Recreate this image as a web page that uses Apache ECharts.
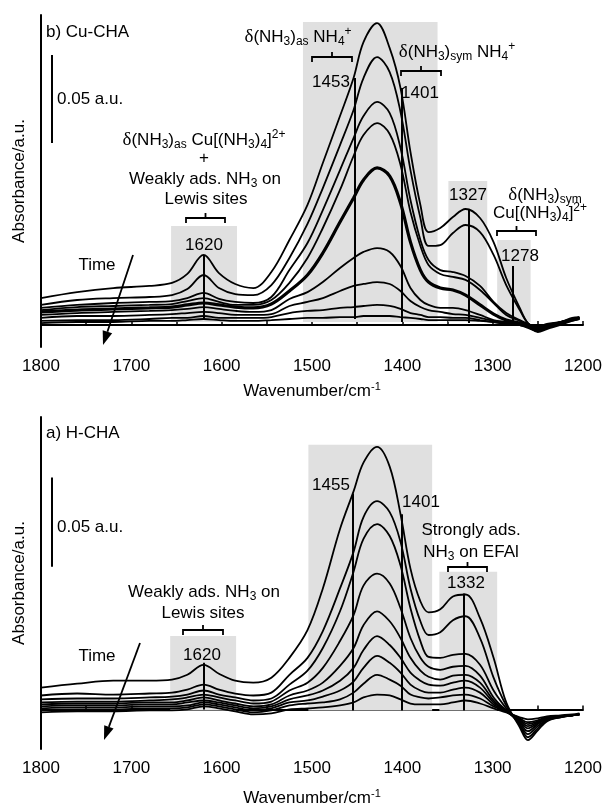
<!DOCTYPE html>
<html>
<head>
<meta charset="utf-8">
<script src="https://cdn.jsdelivr.net/npm/echarts/dist/echarts.min.js"></script>
<style>
  html, body { margin: 0; background: #fff; }
  #chart { width: 608px; height: 809px; }
</style>
</head>
<body>
<div id="chart"></div>
<script>
// wavenumber grid shared by both panels (cm-1)
const wavenumbers = [1800, 1760, 1720, 1680, 1655, 1638, 1620, 1603, 1585, 1565, 1545, 1525,
  1505, 1488, 1469, 1454, 1443, 1428, 1414, 1402, 1391, 1380, 1371, 1358, 1344, 1330,
  1314, 1299, 1285, 1270, 1261, 1250, 1240, 1225, 1212, 1204];

// b) Cu-CHA spectra, absorbance in mAU (50 = 0.05 a.u.), newest -> oldest
const cu1 = [15.3, 18.7, 21.0, 22.2, 23.9, 29.0, 39.8, 29.5, 23.3, 21.0, 30.1, 48.3, 68.2, 92.0, 118.7, 140.3, 160.7, 171.5, 157.3, 134.6, 98.3, 68.2, 52.8, 55.1, 61.3, 65.9, 60.8, 47.1, 26.7, 9.7, 1.1, -1.7, 0, 1.7, 4.0, 4.5];
const cu2 = [11.4, 14.2, 15.3, 15.9, 17.0, 20.4, 28.4, 21.0, 17.6, 17.0, 22.7, 38.1, 57.4, 77.8, 102.2, 122.1, 140.3, 152.2, 143.7, 121.0, 88.0, 60.8, 44.9, 45.4, 52.3, 56.8, 52.8, 39.8, 22.7, 8.5, 1.1, -1.1, 0.6, 1.7, 3.4, 4.5];
const cu3 = [9.7, 11.4, 12.5, 13.1, 13.6, 15.3, 18.2, 14.8, 13.1, 12.5, 15.9, 31.2, 46.6, 65.3, 88.0, 106.2, 118.7, 126.7, 120.4, 100.5, 71.0, 48.3, 36.9, 31.2, 30.1, 27.8, 22.2, 13.1, 6.8, 2.8, 0.6, -1.7, 0, 1.7, 3.4, 4.0];
const cu4 = [8.5, 10.2, 10.8, 11.4, 11.9, 13.6, 15.3, 13.1, 11.4, 11.4, 14.2, 23.9, 38.1, 55.1, 76.7, 96.0, 107.9, 114.7, 108.5, 90.9, 64.2, 44.9, 34.1, 29.0, 27.3, 25.6, 19.9, 12.5, 5.7, 2.3, 0, -2.3, -0.6, 1.1, 2.8, 4.0];
const cu5 = [7.4, 8.5, 9.1, 9.7, 10.2, 11.4, 12.5, 11.4, 10.2, 9.7, 11.9, 19.3, 28.4, 40.9, 58.5, 72.1, 82.4, 89.2, 84.6, 69.3, 47.1, 31.2, 24.4, 21.0, 19.9, 17.0, 11.4, 6.2, 2.8, 1.1, -0.6, -2.8, -1.1, 1.1, 2.8, 4.0];
const cu6 = [5.7, 6.8, 7.4, 8.0, 8.5, 9.1, 10.2, 9.1, 8.0, 7.4, 8.5, 14.8, 18.7, 24.4, 32.4, 38.1, 41.5, 43.7, 41.5, 33.5, 21.0, 14.2, 11.4, 9.7, 9.7, 8.5, 5.7, 2.8, 1.7, 0.6, -1.1, -2.3, -0.6, 1.7, 3.4, 4.0];
const cu7 = [4.0, 5.1, 5.1, 5.7, 6.2, 6.8, 7.4, 6.8, 5.7, 5.7, 6.2, 10.8, 13.1, 15.3, 19.3, 22.2, 23.3, 24.4, 23.3, 19.3, 13.6, 10.2, 8.5, 7.4, 6.2, 5.7, 4.0, 2.3, 1.1, 0, -1.1, -2.8, -1.1, 1.1, 2.8, 4.0];
const cu8 = [2.3, 2.8, 2.8, 3.4, 4.0, 4.0, 5.1, 4.0, 4.0, 4.0, 4.5, 6.8, 8.0, 8.5, 9.7, 10.2, 10.8, 11.4, 10.8, 9.1, 6.8, 5.7, 4.5, 4.5, 4.0, 4.0, 2.8, 1.7, 0.6, 0, -1.7, -3.4, -1.7, 0.6, 2.8, 3.4];
const cu9 = [1.1, 1.7, 1.7, 2.3, 2.3, 2.8, 3.4, 2.8, 2.3, 2.3, 2.8, 3.4, 4.0, 4.0, 4.5, 4.5, 5.1, 5.1, 5.1, 4.5, 4.0, 3.4, 2.8, 2.8, 2.8, 2.8, 2.3, 1.7, 0.6, 0, -1.1, -4.0, -2.3, 0, 2.3, 3.4];

// a) H-CHA spectra, absorbance in mAU
const h1 = [12.2, 14.4, 16.1, 16.1, 16.7, 19.4, 25.0, 20.0, 16.1, 15.0, 17.8, 28.9, 44.4, 67.8, 101.1, 122.2, 138.3, 147.2, 136.1, 109.4, 78.9, 60.6, 54.4, 56.1, 63.3, 64.4, 51.1, 28.9, 3.9, -10.0, -17.2, -11.7, -6.7, -4.4, -3.3, -2.8];
const h2 = [7.8, 8.9, 8.3, 8.9, 9.4, 11.1, 13.9, 11.1, 8.9, 7.8, 9.4, 19.4, 28.9, 43.9, 67.8, 88.3, 107.8, 116.7, 110.6, 93.9, 67.8, 49.4, 41.7, 43.3, 50.0, 52.2, 40.0, 17.8, 2.2, -8.9, -15.6, -10.6, -6.1, -4.4, -3.3, -2.8];
const h3 = [5.6, 6.1, 6.1, 6.7, 7.2, 8.3, 10.6, 8.3, 6.7, 5.0, 6.1, 13.9, 21.7, 34.4, 55.0, 77.2, 95.6, 103.9, 97.2, 80.6, 56.7, 38.3, 29.4, 28.9, 30.6, 31.1, 25.0, 10.6, 0.6, -8.3, -13.9, -9.4, -5.6, -4.4, -3.3, -2.8];
const h4 = [3.9, 4.4, 4.4, 5.0, 5.6, 6.7, 8.3, 6.7, 5.0, 3.3, 4.4, 10.6, 15.0, 23.3, 38.3, 52.8, 69.4, 76.1, 70.6, 56.7, 40.0, 28.9, 23.9, 22.2, 23.9, 24.4, 18.9, 6.7, -0.6, -7.2, -12.2, -8.3, -5.0, -3.9, -3.3, -2.8];
const h5 = [2.8, 3.3, 3.3, 3.9, 3.9, 5.0, 6.7, 5.0, 3.3, 1.7, 2.8, 7.8, 10.6, 15.0, 24.4, 34.4, 47.2, 55.0, 49.4, 40.0, 28.9, 21.7, 18.3, 16.7, 18.9, 19.4, 15.0, 5.0, -1.1, -6.7, -10.6, -7.8, -5.0, -3.9, -3.3, -2.8];
const h6 = [1.7, 2.2, 2.2, 2.8, 2.8, 3.9, 5.0, 3.9, 2.2, 0.6, 1.7, 5.6, 7.8, 10.6, 16.1, 23.3, 33.3, 41.1, 36.1, 28.9, 20.6, 16.1, 13.9, 13.3, 15.0, 16.1, 12.2, 3.9, -1.1, -6.1, -9.4, -7.2, -4.4, -3.9, -3.3, -2.8];
const h7 = [0.6, 1.1, 1.1, 1.7, 1.7, 2.2, 3.9, 2.8, 1.1, -0.6, 0.6, 3.9, 5.0, 7.2, 10.6, 15.6, 23.3, 30.0, 26.1, 20.6, 13.9, 10.6, 9.4, 9.4, 11.1, 12.2, 9.4, 2.8, -1.1, -5.6, -8.3, -6.7, -4.4, -3.9, -3.3, -2.8];
const h8 = [-0.6, 0, 0, 0.6, 0.6, 1.1, 2.8, 1.7, 0, -1.7, -0.6, 2.2, 3.3, 3.9, 5.6, 9.4, 14.4, 19.4, 16.7, 13.3, 8.3, 6.7, 6.1, 6.7, 7.8, 8.3, 6.1, 1.7, -1.1, -5.0, -7.2, -6.1, -4.4, -3.9, -3.3, -2.8];
const h9 = [-1.7, -1.1, -1.1, -0.6, -0.6, 0, 1.7, 0.6, -1.1, -2.8, -2.2, 0, 0.6, 1.1, 2.2, 3.9, 6.7, 8.3, 7.8, 5.6, 3.3, 2.8, 2.8, 2.8, 3.9, 5.0, 3.3, 0.6, -1.7, -4.4, -5.6, -5.0, -3.9, -3.3, -2.8, -2.2];

// shaded bands: [from cm-1, to cm-1, top mAU, bottom mAU]
const cuBands = [[1656, 1583, 56.2, 1.7], [1510, 1361, 172.1, 1.7], [1349, 1306, 81.8, 1.7], [1295, 1258, 48.3, 1.7]];
const hBands = [[1657, 1584, 41.1, -0.6], [1504, 1367, 148.3, -0.6], [1359, 1295, 77.2, -0.6]];
// peak markers: [cm-1, top mAU, bottom mAU]
const cuPeaks = [[1620, 39.8, 2.8], [1453, 140.3, 3.4], [1401, 134.6, 1.7], [1327, 65.9, 1.1], [1278, 33.5, 1.7]];
const hPeaks = [[1620, 26.1, 0], [1455, 121.0, -0.6], [1401, 109.4, -0.6], [1332, 65.0, -0.6]];
// 0.05 a.u. scale bars: [cm-1, bottom, top]
const cuScaleBar = [1788, 103.4, 153.4];
const hScaleBar = [1788, 80.0, 130.0];

const FONT = 'Liberation Sans, Arial, sans-serif';
const rich = {
  sub: { fontSize: 12, lineHeight: 14, verticalAlign: 'bottom', fontFamily: FONT, fill: '#000' },
  sup: { fontSize: 12, lineHeight: 14, verticalAlign: 'top', fontFamily: FONT, fill: '#000' },
  d: { fontSize: 19, lineHeight: 22, fontFamily: 'Liberation Serif, serif', fill: '#000' }
};

const chart = echarts.init(document.getElementById('chart'));

function xAxisOf(i, gap) {
  return {
    gridIndex: i, type: 'value', min: 1200, max: 1800, interval: 100, inverse: true,
    axisLine: { lineStyle: { color: '#000', width: 2 } },
    axisTick: { show: true, inside: true, length: 4, lineStyle: { color: '#000', width: 1.5 } },
    minorTick: { show: true, splitNumber: 2, length: 4, lineStyle: { color: '#000', width: 1.5 } },
    splitLine: { show: false },
    axisLabel: { color: '#000', fontSize: 17, fontFamily: FONT, margin: 11, formatter: v => String(v) },
    name: 'Wavenumber/cm{sup|-1}', nameLocation: 'middle', nameGap: gap,
    nameTextStyle: { color: '#000', fontSize: 17, fontFamily: FONT, lineHeight: 20,
      rich: { sup: { fontSize: 11, lineHeight: 12, verticalAlign: 'top', color: '#000' } } }
  };
}
function yAxisOf(i, min, max) {
  return {
    gridIndex: i, type: 'value', min: min, max: max,
    axisLine: { show: true, lineStyle: { color: '#000', width: 2 } },
    axisTick: { show: false }, axisLabel: { show: false }, splitLine: { show: false },
    name: 'Absorbance/a.u.', nameLocation: 'middle', nameGap: 13,
    nameTextStyle: { color: '#000', fontSize: 17, fontFamily: FONT }
  };
}

function spectra(list, idx, thick) {
  return list.map((vals, k) => ({
    type: 'line', xAxisIndex: idx, yAxisIndex: idx, silent: true, z: 3,
    showSymbol: false, smooth: 0.35, emphasis: { disabled: true },
    lineStyle: { color: '#000', width: k === thick ? 3.2 : 1.8 },
    data: wavenumbers.map((w, j) => [w, vals[j]])
  }));
}
function annotations(idx, bands, peaks, bar) {
  return {
    type: 'line', xAxisIndex: idx, yAxisIndex: idx, silent: true, data: [],
    markArea: {
      silent: true, itemStyle: { color: '#e0e0e0' },
      data: bands.map(b => [{ xAxis: b[0], yAxis: b[2] }, { xAxis: b[1], yAxis: b[3] }])
    },
    markLine: {
      silent: true, symbol: ['none', 'none'], label: { show: false },
      lineStyle: { color: '#000', width: 2, type: 'solid' },
      data: peaks.map(p => [{ coord: [p[0], p[1]] }, { coord: [p[0], p[2]] }])
        .concat([[{ coord: [bar[0], bar[2]] }, { coord: [bar[0], bar[1]] }]])
    }
  };
}

function label(text, x, y, align) {
  return {
    type: 'text', silent: true, z: 10,
    style: {
      text: text, x: x, y: y, fill: '#000', fontSize: 17, fontFamily: FONT,
      lineHeight: 22, align: align || 'center', verticalAlign: 'middle', rich: rich
    }
  };
}
function bracket(x1, x2, y) {
  const xc = (x1 + x2) / 2;
  return [
    { type: 'polyline', silent: true, z: 10, shape: { points: [[x1, y + 5], [x1, y], [x2, y], [x2, y + 5]] },
      style: { stroke: '#000', lineWidth: 1.8, fill: null } },
    { type: 'line', silent: true, z: 10, shape: { x1: xc, y1: y, x2: xc, y2: y - 5 },
      style: { stroke: '#000', lineWidth: 1.8 } }
  ];
}
function arrow(x1, y1, x2, y2) {
  const dx = x2 - x1, dy = y2 - y1, len = Math.hypot(dx, dy);
  const ux = dx / len, uy = dy / len, px = -uy, py = ux;
  const bx = x2 - 14 * ux, by = y2 - 14 * uy;
  return [
    { type: 'line', silent: true, z: 10, shape: { x1: x1, y1: y1, x2: bx, y2: by },
      style: { stroke: '#000', lineWidth: 1.8 } },
    { type: 'polygon', silent: true, z: 10,
      shape: { points: [[x2, y2], [bx + 5 * px, by + 5 * py], [bx - 5 * px, by - 5 * py]] },
      style: { fill: '#000' } }
  ];
}

const d = '{d|δ}';
const graphics = [
  label('b) Cu-CHA', 46, 32, 'left'),
  label('0.05 a.u.', 57, 99, 'left'),
  label(d + '(NH{sub|3}){sub|as} Cu[(NH{sub|3}){sub|4}]{sup|2+}', 204, 140),
  label('+', 204, 158),
  label('Weakly ads. NH{sub|3} on', 205, 179),
  label('Lewis sites', 206, 199),
  label('1620', 204, 245),
  label('Time', 97, 265),
  label(d + '(NH{sub|3}){sub|as} NH{sub|4}{sup|+}', 298, 37),
  label('1453', 331, 82),
  label(d + '(NH{sub|3}){sub|sym} NH{sub|4}{sup|+}', 457, 52),
  label('1401', 420, 93),
  label('1327', 468, 195),
  label(d + '(NH{sub|3}){sub|sym}', 545, 195),
  label('Cu[(NH{sub|3}){sub|4}]{sup|2+}', 540, 213),
  label('1278', 520, 256),

  label('a) H-CHA', 46, 433, 'left'),
  label('0.05 a.u.', 57, 527, 'left'),
  label('Weakly ads. NH{sub|3} on', 204, 592),
  label('Lewis sites', 203, 613),
  label('1620', 202, 655),
  label('Time', 97, 656),
  label('1455', 331, 485),
  label('1401', 421, 502),
  label('Strongly ads.', 471, 530),
  label('NH{sub|3} on EFAl', 471, 552),
  label('1332', 466, 583)
].concat(
  bracket(186, 225, 218), bracket(312, 352, 57), bracket(401, 441, 71), bracket(497, 536, 231),
  bracket(183, 223, 630), bracket(448, 487, 567),
  arrow(133, 255, 103, 345), arrow(140, 643, 104, 740)
);

chart.setOption({
  animation: false,
  backgroundColor: '#fff',
  grid: [
    { left: 41, right: 25, top: 15, height: 332 },
    { left: 41, right: 25, top: 417, height: 335 }
  ],
  xAxis: [xAxisOf(0, 34), xAxisOf(1, 39)],
  yAxis: [yAxisOf(0, -12.5, 176.1), yAxisOf(1, -22.2, 163.9)],
  series: [
    annotations(0, cuBands, cuPeaks, cuScaleBar),
    annotations(1, hBands, hPeaks, hScaleBar)
  ].concat(
    spectra([cu1, cu2, cu3, cu4, cu5, cu6, cu7, cu8, cu9], 0, 4),
    spectra([h1, h2, h3, h4, h5, h6, h7, h8, h9], 1, -1)
  ),
  graphic: graphics
});
</script>
</body>
</html>
